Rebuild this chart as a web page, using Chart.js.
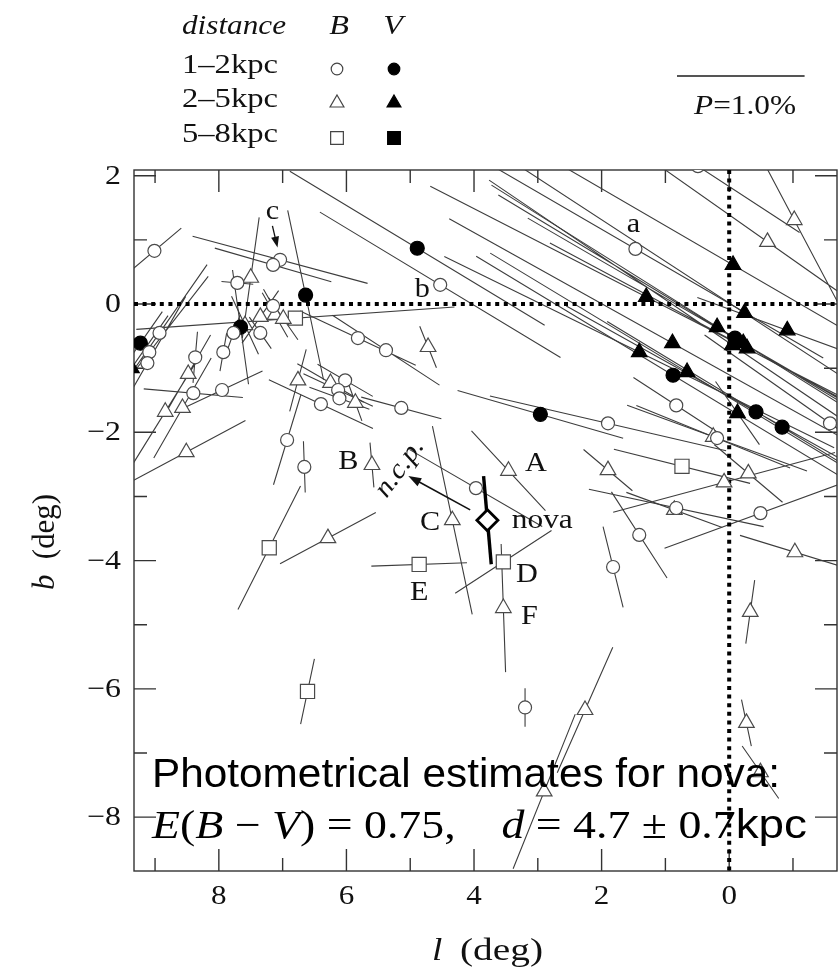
<!DOCTYPE html>
<html>
<head>
<meta charset="utf-8">
<title>Polarization map around the nova</title>
<script src="https://cdn.jsdelivr.net/npm/chart.js@4.4.1/dist/chart.umd.min.js"></script>
<style>
  html, body { margin: 0; padding: 0; background: #fff; overflow: hidden; }
  canvas { display: block; }
</style>
</head>
<body>
<canvas id="polmap" width="838" height="973"></canvas>
<script>
// map window (deg)
const lMin = -1.69, lMax = 9.33;
const bMin = -8.84, bMax = 2.09;
// a bar for P = 1.0% is 2 deg long on the map
const degPerPct = 2;

// B band, 1-2 kpc (open circles): l, b (deg), P (%), bar angle on the map (deg, + = up-right)
const c1L = [9.01, 7.04, 7.15, 7.71, 7.15, 7.77, 7.35, 8.93, 9.09, 9.12, 8.37, 8.40, 7.95, 7.93, 6.93, 6.66, 6.02, 6.13,
  6.40, 6.11, 5.82, 5.38, 5.14, 4.53, 3.97, 3.20, 1.47, 0.49, 1.90, 0.83, 0.19, 0.83, -0.49, 1.41, 1.82, -1.58];
const c1B = [0.83, 0.69, 0.61, 0.33, -0.03, -0.45, -0.45, -0.45, -0.75, -0.92, -0.83, -1.39, -1.34, -0.75, -2.12, -2.54, -1.19, -1.34,
  -1.56, -1.47, -0.53, -0.72, -1.62, 0.30, -2.87, -6.29, 0.86, 2.15, -1.86, -1.58, -2.09, -3.18, -3.26, -3.60, -4.10, -1.86];
const c1P = [0.55, 1.42, 0.95, 0.25, 0.30, 0.30, 0.30, 1.30, 1.50, 1.20, 0.40, 0.78, 0.70, 0.30, 0.73, 0.40, 0.50, 0.60,
  0.90, 0.50, 1.00, 1.00, 0.65, 2.20, 1.20, 0.30, 3.40, 1.90, 1.90, 0.80, 1.50, 1.40, 1.60, 0.80, 0.65, 2.40];
const c1A = [40, -15, -16, -5, -60, 70, -55, 55, 52, 60, 85, -5, 25, 80, 73, -88, -30, -25,
  -25, -20, -25, -33, -15, -31, -30, 90, -30, -33, -13, -33, -20, -12, 20, -57, -76, -35];

// V band, 1-2 kpc (filled circles)
const c2L = [9.23, 7.66, 6.64, 4.89, 2.96, 0.88, -0.42, -0.83, -0.09];
const c2B = [-0.61, -0.36, 0.14, 0.87, -1.72, -1.11, -1.68, -1.92, -0.53];
const c2P = [0.60, 0.90, 1.35, 2.33, 1.35, 3.60, 3.40, 3.20, 4.50];
const c2A = [55, -82, -78, -31, -16, -31, -29, -31, -32];

// B band, 2-5 kpc (open triangles)
const t1L = [7.50, 7.35, 7.12, 6.99, 7.59, 8.84, 8.57, 8.48, 8.51, 6.76, 6.25, 5.86, 4.72, 5.60, 6.29, 3.46,
  4.34, 3.54, 2.26, 2.90, 1.90, 0.25, 0.08, -0.30, 0.86, -1.03, -0.33, -0.27, -0.49, -1.02, -0.60];
const t1B = [0.41, -0.20, -0.17, -0.23, -0.33, -1.68, -1.62, -1.09, -2.31, -1.19, -1.23, -1.54, -0.67, -2.51, -3.65, -2.60,
  -3.37, -4.74, -6.33, -7.60, -2.59, -2.07, -2.78, -2.64, -3.21, -3.87, -4.80, -6.53, -7.30, 1.31, 0.97];
const t1P = [0.95, 0.50, 0.40, 0.40, 0.50, 1.00, 0.90, 0.70, 1.05, 0.50, 0.60, 0.30, 0.35, 0.35, 0.85, 0.85,
  1.50, 1.00, 1.07, 1.30, 0.50, 1.30, 1.80, 0.70, 0.80, 0.90, 0.50, 0.37, 0.50, 1.50, 2.60];
const t1A = [82, 55, -60, -55, -65, 58, 60, 60, 28, 75, -30, -70, -68, -85, 28, -47,
  -78, -88, 66, 68, -40, -22, 15, -40, -20, -17, 82, -78, -55, -62, -35];

// V band, 2-5 kpc (filled triangles)
const t2L = [9.37, -0.06, 1.30, -0.24, 0.19, -0.91, 0.89, 1.41, -0.05, -0.22, -0.28, 0.66, -0.13];
const t2B = [-1.00, 0.61, 0.11, -0.14, -0.36, -0.41, -0.61, -0.75, -0.64, -0.61, -0.69, -1.06, -1.70];
const t2P = [1.00, 4.50, 3.80, 4.20, 4.00, 1.50, 4.00, 3.40, 4.60, 3.90, 3.50, 3.60, 0.60];
const t2A = [55, -30, -27, -33, -31, -20, -29, -26, -34, -30, -28, -31, -55];

// B band, 5-8 kpc (open squares)
const s1L = [6.80, 7.21, 4.86, 3.54, 6.61, 0.74];
const s1B = [-0.22, -3.80, -4.06, -4.02, -6.04, -2.53];
const s1P = [2.50, 1.08, 0.75, 0.90, 0.52, 1.10];
const s1A = [4, 63, 2, 33, 78, -14];

// V band, 5-8 kpc (filled squares) - none in this field
const s2L = [], s2B = [], s2P = [], s2A = [];

// the nova itself
const novaL = [3.79], novaB = [-3.37], novaP = [0.69], novaA = [-85];

// axis ticks
const xTickVals = [8, 6, 4, 2, 0];
const xTickText = ['8', '6', '4', '2', '0'];
const xMinorVals = [9, 7, 5, 3, 1, -1];
const yTickVals = [2, 0, -2, -4, -6, -8];
const yTickText = ['2', '0', '\u22122', '\u22124', '\u22126', '\u22128'];
const yMinorVals = [1, -1, -3, -5, -7];

// star tags
const tagText = ['a', 'b', 'c', 'A', 'B', 'C', 'D', 'E', 'F', 'nova'];
const tagL = [1.50, 4.81, 7.16, 3.03, 5.97, 4.69, 3.17, 4.86, 3.13, 2.93];
const tagB = [1.23, 0.22, 1.44, -2.50, -2.46, -3.42, -4.23, -4.51, -4.88, -3.37];

const legendRows = ['1\u20132kpc', '2\u20135kpc', '5\u20138kpc'];

const SERIF = '"Liberation Serif", serif';
const SANS = '"Liberation Sans", sans-serif';

function bars(L, B, P, A) {
  const pts = [];
  for (let i = 0; i < L.length; i++) {
    const r = A[i] * Math.PI / 180;
    const h = P[i] * degPerPct / 2;
    // l runs right-to-left, so "right" on the map is smaller l
    pts.push({x: L[i] - h * Math.cos(r), y: B[i] + h * Math.sin(r)});
    pts.push({x: L[i] + h * Math.cos(r), y: B[i] - h * Math.sin(r)});
    pts.push({x: L[i], y: null});
  }
  return pts;
}

function stars(L, B) {
  return L.map((l, i) => ({x: l, y: B[i]}));
}

function barSet(L, B, P, A) {
  return {
    data: bars(L, B, P, A), showLine: true, spanGaps: false,
    borderColor: '#3d3d3d', borderWidth: 1.1, pointRadius: 0, order: 5
  };
}

function starSet(L, B, style, r, filled) {
  return {
    data: stars(L, B), showLine: false, pointStyle: style, pointRadius: r,
    pointBackgroundColor: filled ? '#000' : '#fff',
    pointBorderColor: filled ? '#000' : '#4a4a4a',
    pointBorderWidth: 1.2, order: 1
  };
}

// text drawn left->right from x, fitted to width (or natural * k)
function runs(ctx, parts, x, y, width, k) {
  let w = 0;
  parts.forEach(p => { ctx.font = p[1]; w += ctx.measureText(p[0]).width; });
  const sx = width ? width / w : (k || 1);
  ctx.save();
  ctx.translate(x, y);
  ctx.scale(sx, 1);
  ctx.textAlign = 'left';
  let cx = 0;
  parts.forEach(p => { ctx.font = p[1]; ctx.fillText(p[0], cx, 0); cx += ctx.measureText(p[0]).width; });
  ctx.restore();
  return w * sx;
}

function centered(ctx, text, font, cx, cy, k) {
  ctx.font = font;
  const w = ctx.measureText(text).width * k;
  runs(ctx, [[text, font]], cx - w / 2, cy, w);
}

function symbol(ctx, kind, filled, cx, cy, s) {
  ctx.beginPath();
  if (kind === 'circle') {
    ctx.arc(cx, cy, s, 0, Math.PI * 2);
  } else if (kind === 'triangle') {
    ctx.moveTo(cx, cy - s);
    ctx.lineTo(cx + s * 0.866, cy + s * 0.5);
    ctx.lineTo(cx - s * 0.866, cy + s * 0.5);
    ctx.closePath();
  } else {
    ctx.rect(cx - s * 0.707, cy - s * 0.707, s * 1.414, s * 1.414);
  }
  ctx.fillStyle = filled ? '#000' : '#fff';
  ctx.fill();
  ctx.strokeStyle = filled ? '#000' : '#444';
  ctx.lineWidth = 1.2;
  ctx.stroke();
}

function arrow(ctx, x0, y0, x1, y1, head, w) {
  const a = Math.atan2(y1 - y0, x1 - x0);
  ctx.beginPath();
  ctx.moveTo(x0, y0);
  ctx.lineTo(x1 - Math.cos(a) * head * 0.8, y1 - Math.sin(a) * head * 0.8);
  ctx.stroke();
  ctx.beginPath();
  ctx.moveTo(x1, y1);
  ctx.lineTo(x1 - Math.cos(a) * head + Math.sin(a) * w, y1 - Math.sin(a) * head - Math.cos(a) * w);
  ctx.lineTo(x1 - Math.cos(a) * head - Math.sin(a) * w, y1 - Math.sin(a) * head + Math.cos(a) * w);
  ctx.closePath();
  ctx.fill();
}

const frame = {
  id: 'frame',
  beforeDatasetsDraw(chart) {
    const {ctx, chartArea: a, scales: {x, y}} = chart;
    ctx.save();
    ctx.strokeStyle = '#333';
    ctx.lineWidth = 1.4;
    ctx.strokeRect(a.left, a.top, a.right - a.left, a.bottom - a.top);
    ctx.beginPath();
    const xt = (v, len) => {
      const px = x.getPixelForValue(v);
      ctx.moveTo(px, a.bottom); ctx.lineTo(px, a.bottom - len);
      ctx.moveTo(px, a.top); ctx.lineTo(px, a.top + len);
    };
    const yt = (v, len) => {
      const py = y.getPixelForValue(v);
      ctx.moveTo(a.left, py); ctx.lineTo(a.left + len, py);
      ctx.moveTo(a.right, py); ctx.lineTo(a.right - len, py);
    };
    xTickVals.forEach(v => xt(v, 22));
    xMinorVals.forEach(v => xt(v, 13));
    yTickVals.forEach(v => yt(v, 22));
    yMinorVals.forEach(v => yt(v, 13));
    ctx.stroke();

    ctx.fillStyle = '#111';
    ctx.textBaseline = 'middle';
    xTickVals.forEach((v, i) => centered(ctx, xTickText[i], '27px ' + SERIF, x.getPixelForValue(v), 897, 1.15));
    yTickVals.forEach((v, i) => {
      ctx.font = '27px ' + SERIF;
      const w = ctx.measureText(yTickText[i]).width * 1.18;
      runs(ctx, [[yTickText[i], '27px ' + SERIF]], 121 - w, y.getPixelForValue(v) + 1, w);
    });

    // axis titles
    runs(ctx, [['l', 'italic 31px ' + SERIF]], 432, 952, 0, 1.2);
    runs(ctx, [['(deg)', '31px ' + SERIF]], 460, 952, 83);
    ctx.save();
    ctx.translate(46, 542);
    ctx.rotate(-Math.PI / 2);
    runs(ctx, [['b', 'italic 31px ' + SERIF], ['  (deg)', '31px ' + SERIF]], -48, 0, 96);
    ctx.restore();

    // legend
    runs(ctx, [['distance', 'italic 28px ' + SERIF]], 182, 27, 104);
    centered(ctx, 'B', 'italic 28px ' + SERIF, 339, 27, 1.15);
    centered(ctx, 'V', 'italic 28px ' + SERIF, 393, 27, 1.15);
    const kinds = ['circle', 'triangle', 'rect'];
    const sizes = [5.8, 8, 9];
    const rowY = [66, 100, 135];
    legendRows.forEach((t, i) => {
      ctx.fillStyle = '#111';
      runs(ctx, [[t, '28px ' + SERIF]], 182, rowY[i], 96);
      symbol(ctx, kinds[i], false, 337, rowY[i] + 3, sizes[i]);
      symbol(ctx, kinds[i], true, 394, rowY[i] + 3, sizes[i]);
    });

    // scale bar: P = 1.0%
    const barLen = Math.abs(x.getPixelForValue(0) - x.getPixelForValue(degPerPct));
    ctx.strokeStyle = '#555';
    ctx.lineWidth = 2;
    ctx.beginPath();
    ctx.moveTo(677, 76); ctx.lineTo(677 + barLen, 76);
    ctx.stroke();
    ctx.fillStyle = '#111';
    runs(ctx, [['P', 'italic 28px ' + SERIF], ['=1.0%', '28px ' + SERIF]], 694, 107, 102);
    ctx.restore();
  },
  afterDatasetsDraw(chart) {
    const {ctx, scales: {x, y}} = chart;
    ctx.save();
    ctx.fillStyle = '#111';
    ctx.textBaseline = 'middle';
    tagText.forEach((t, i) => {
      const px = x.getPixelForValue(tagL[i]), py = y.getPixelForValue(tagB[i]);
      centered(ctx, t, (t === 'nova' ? '28px ' : '27px ') + SERIF, px, py, 1.12);
    });

    // arrow to star c
    ctx.strokeStyle = '#111';
    ctx.lineWidth = 1.3;
    arrow(ctx, x.getPixelForValue(7.16), y.getPixelForValue(1.22), x.getPixelForValue(7.08), y.getPixelForValue(0.88), 11, 4);

    // direction of the north celestial pole
    ctx.lineWidth = 1.6;
    arrow(ctx, x.getPixelForValue(4.06), y.getPixelForValue(-3.21), x.getPixelForValue(5.03), y.getPixelForValue(-2.68), 13, 4.5);
    ctx.save();
    ctx.translate(x.getPixelForValue(5.16), y.getPixelForValue(-2.56));
    ctx.rotate(-54 * Math.PI / 180);
    centered(ctx, 'n.c.p.', 'italic 27px ' + SERIF, 0, 0, 1.1);
    ctx.restore();

    // photometric note
    ctx.fillStyle = '#000';
    ctx.textBaseline = 'alphabetic';
    runs(ctx, [['Photometrical estimates for nova:', '41px ' + SANS]], 152, 787, 628);
    const it = 'italic 40px ' + SERIF, up = '40px ' + SERIF;
    runs(ctx, [['E', it], ['(', up], ['B', it], [' \u2212 ', up], ['V', it], [') = 0.75,', up], ['    ', up],
      ['d', it], [' = 4.7 \u00b1 0.7', up], ['kpc', '40px ' + SANS]], 152, 838, 655);
    ctx.restore();
  }
};

new Chart(document.getElementById('polmap'), {
  type: 'scatter',
  data: {
    datasets: [
      barSet(c1L, c1B, c1P, c1A),
      barSet(c2L, c2B, c2P, c2A),
      barSet(t1L, t1B, t1P, t1A),
      barSet(t2L, t2B, t2P, t2A),
      barSet(s1L, s1B, s1P, s1A),
      barSet(s2L, s2B, s2P, s2A),
      Object.assign(barSet(novaL, novaB, novaP, novaA), {borderColor: '#000', borderWidth: 3.4, order: 2}),
      {
        data: [{x: lMax, y: 0}, {x: lMin, y: 0}], showLine: true, pointRadius: 0,
        borderColor: '#000', borderWidth: 4, borderDash: [4, 4.6], order: 3
      },
      {
        data: [{x: 0, y: bMax}, {x: 0, y: bMin}], showLine: true, pointRadius: 0,
        borderColor: '#000', borderWidth: 4, borderDash: [4, 4.6], order: 3
      },
      starSet(c1L, c1B, 'circle', 6.5, false),
      starSet(c2L, c2B, 'circle', 7, true),
      starSet(t1L, t1B, 'triangle', 9, false),
      starSet(t2L, t2B, 'triangle', 9, true),
      starSet(s1L, s1B, 'rect', 10, false),
      starSet(s2L, s2B, 'rect', 10, true),
      Object.assign(starSet(novaL, novaB, 'rectRot', 10.5, false), {pointBorderColor: '#000', pointBorderWidth: 2.8, order: 0})
    ]
  },
  options: {
    responsive: false,
    devicePixelRatio: 1,
    animation: false,
    events: [],
    layout: {autoPadding: false, padding: {left: 134, right: 1, top: 170, bottom: 102}},
    scales: {
      x: {type: 'linear', min: lMin, max: lMax, reverse: true, display: false},
      y: {type: 'linear', min: bMin, max: bMax, display: false}
    },
    plugins: {legend: {display: false}, tooltip: {enabled: false}}
  },
  plugins: [frame]
});
</script>
</body>
</html>
